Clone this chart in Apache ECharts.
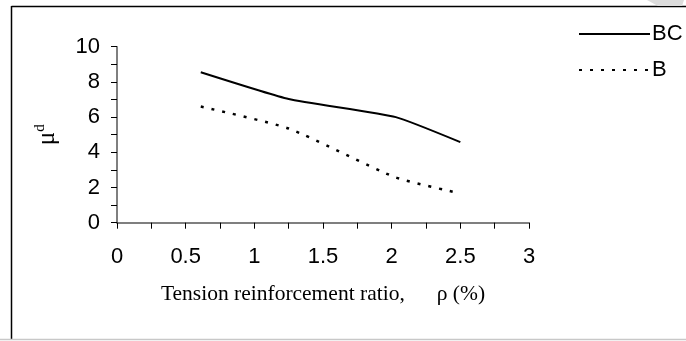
<!DOCTYPE html>
<html>
<head>
<meta charset="utf-8">
<script src="https://cdn.jsdelivr.net/npm/echarts@6/dist/echarts.min.js"></script>
<style>
html,body{margin:0;padding:0;background:#fff;}
#chart{width:686px;height:341px;}
</style>
</head>
<body>
<div id="chart"></div>
<script>
// Data
var seriesNames = ['BC', 'B'];
var bcX = [0.61, 1.25, 2.03, 2.5];
var bcY = [8.55, 7.03, 6.0, 4.58];
var bX = [0.61, 1.25, 2.02, 2.45];
var bY = [6.6, 5.35, 2.6, 1.75];
var xTicks = [0, 0.5, 1, 1.5, 2, 2.5, 3];
var yTicks = [0, 2, 4, 6, 8, 10];
var xAxisTitle = 'Tension reinforcement ratio,';
var xAxisUnit = 'ρ (%)';

function pairs(xs, ys) {
  return xs.map(function (x, i) { return [x, ys[i]]; });
}

var chart = echarts.init(document.getElementById('chart'), null, {renderer: 'canvas'});
var sans = 'Liberation Sans, Arial, sans-serif';
var serif = 'Liberation Serif, Times New Roman, serif';
var axisCol = '#555';

chart.setOption({
  backgroundColor: '#fff',
  animation: false,
  grid: {left: 117, right: 157, top: 46.7, bottom: 118.3, containLabel: false},
  legend: {
    orient: 'vertical',
    left: 578,
    top: 23,
    itemWidth: 71,
    itemHeight: 14,
    itemGap: 14,
    padding: 0,
    itemStyle: {opacity: 0, borderWidth: 0},
    textStyle: {fontFamily: sans, fontSize: 22, color: '#000', lineHeight: 21, padding: [0, 0, 0, -3]},
    data: [seriesNames[0], seriesNames[1]]
  },
  xAxis: {
    type: 'value',
    min: 0, max: 3, interval: 0.5,
    name: '{a|' + xAxisTitle + '}{g|}{a|' + xAxisUnit + '}',
    nameLocation: 'middle',
    nameGap: 61,
    nameTextStyle: {
      rich: {
        a: {fontFamily: serif, fontSize: 21.5, color: '#000'},
        g: {width: 32}
      }
    },
    axisLine: {show: true, onZero: false, lineStyle: {color: axisCol, width: 1.5}},
    axisTick: {show: true, length: 6, lineStyle: {color: '#000', width: 1}},
    minorTick: {show: true, splitNumber: 2, length: 6, lineStyle: {color: '#000', width: 1}},
    splitLine: {show: false},
    axisLabel: {
      fontFamily: sans, fontSize: 22, color: '#000', margin: 23,
      formatter: function (v) { return xTicks.indexOf(v) >= 0 ? String(v) : ''; }
    }
  },
  yAxis: {
    type: 'value',
    min: 0, max: 10, interval: 2,
    name: '{m|μ}{d|d}',
    nameLocation: 'middle',
    nameGap: 57,
    nameRotate: 90,
    nameTextStyle: {
      rich: {
        m: {fontFamily: serif, fontSize: 25, color: '#000', lineHeight: 27, verticalAlign: 'bottom'},
        d: {fontFamily: serif, fontSize: 15, color: '#000', lineHeight: 27, verticalAlign: 'top'}
      }
    },
    axisLine: {show: true, onZero: false, lineStyle: {color: axisCol, width: 1.5}},
    axisTick: {show: true, length: 6, lineStyle: {color: '#000', width: 1}},
    minorTick: {show: true, splitNumber: 2, length: 6, lineStyle: {color: '#000', width: 1}},
    splitLine: {show: false},
    axisLabel: {
      fontFamily: sans, fontSize: 22, color: '#000', margin: 17,
      formatter: function (v) { return yTicks.indexOf(v) >= 0 ? String(v) : ''; }
    }
  },
  series: [
    {
      name: seriesNames[0], type: 'line', data: pairs(bcX, bcY),
      symbol: 'none', smooth: 0.15,
      itemStyle: {color: '#000'},
      lineStyle: {color: '#000', width: 2, type: 'solid'}
    },
    {
      name: seriesNames[1], type: 'line', data: pairs(bX, bY),
      symbol: 'none', smooth: 0.2,
      itemStyle: {color: '#000'},
      lineStyle: {color: '#000', width: 2.5, type: [3, 8]}
    }
  ],
  graphic: [
    {type: 'line', shape: {x1: 11.5, y1: 6.5, x2: 686, y2: 6.5}, style: {stroke: '#000', lineWidth: 1.5}, silent: true},
    {type: 'line', shape: {x1: 11.5, y1: 6, x2: 11.5, y2: 339}, style: {stroke: '#000', lineWidth: 1.5}, silent: true},
    {type: 'line', shape: {x1: 0, y1: 339.5, x2: 686, y2: 339.5}, style: {stroke: '#c8c8c8', lineWidth: 1.5}, silent: true},
    {type: 'polygon', shape: {points: [[647, 0], [684, 0], [682, 6], [658, 6]]}, style: {fill: '#dcdcdc'}, silent: true}
  ]
});
</script>
</body>
</html>
